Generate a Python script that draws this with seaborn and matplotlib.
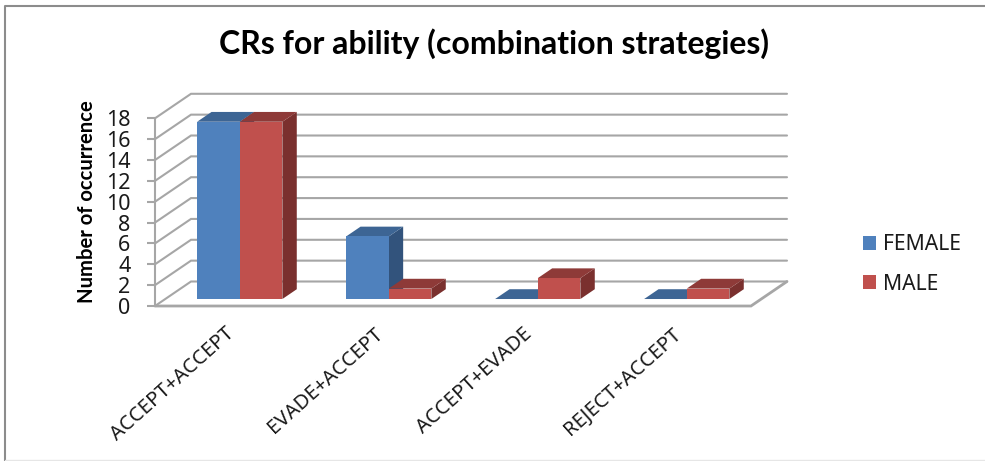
import matplotlib
matplotlib.use("Agg")
import matplotlib.pyplot as plt
from matplotlib.colors import to_hex
from matplotlib.lines import Line2D
from matplotlib.patches import Patch, Polygon
from matplotlib.transforms import ScaledTranslation
import pandas as pd
import seaborn as sns

categories = ["ACCEPT+ACCEPT", "EVADE+ACCEPT", "ACCEPT+EVADE", "REJECT+ACCEPT"]
female_counts = [17, 6, 0, 0]
male_counts = [17, 1, 2, 1]
series_names = ["FEMALE", "MALE"]
y_ticks = list(range(0, 20, 2))

FACE = {"FEMALE": "#4F81BD", "MALE": "#C0504D"}
TOP = {"FEMALE": "#3D6594", "MALE": "#8E3A38"}
SIDE = {"FEMALE": "#32537C", "MALE": "#7A302E"}
GRID = "#A6A6A6"
FONT = ["Noto Sans", "DejaVu Sans"]
BOLD_FONT = ["Lato", "DejaVu Sans"]

W, H = 985, 461
# Front plane of the box in pixels
LEFT, RIGHT, BASE, TOP18 = 155, 751, 306, 118.3
# Depth of the box, in pixels, then in data units
DEPTH_PX, RISE_PX = 36, 24.5
DX = DEPTH_PX / ((RIGHT - LEFT) / 4)
DY = RISE_PX / ((BASE - TOP18) / 18)
# Bars start part-way into the box and occupy a slice of its depth
BAR_FRONT, BAR_DEPTH = 0.285, 0.40

sns.set_theme(style="white")
plt.rcParams["font.family"] = FONT

frame = pd.DataFrame({
    "category": categories * 2,
    "series": [series_names[0]] * 4 + [series_names[1]] * 4,
    "count": female_counts + male_counts,
})

fig = plt.figure(figsize=(W / 100, H / 100), dpi=100, facecolor="white")
ax = fig.add_axes([LEFT / W, 1 - BASE / H, (RIGHT - LEFT) / W, (BASE - TOP18) / H])
ax.set_facecolor("none")

sns.barplot(data=frame, x="category", y="count", hue="series", order=categories,
            hue_order=series_names, palette=FACE, width=0.572, saturation=1,
            gap=0, legend=False, ax=ax, linewidth=0, zorder=5, clip_on=False)
ax.set_xlim(-0.5, 3.5)
ax.set_ylim(0, 18)

# Back wall, side wall and floor outline
for v in y_ticks:
    ax.plot([-0.5, -0.5 + DX, 3.5 + DX], [v, v + DY, v + DY], color=GRID, lw=1.5,
            clip_on=False, zorder=1, solid_joinstyle="miter")
ax.plot([-0.5, 3.5, 3.5 + DX], [0, 0, DY], color=GRID, lw=2, clip_on=False, zorder=1,
        solid_joinstyle="miter")

# Push each bar back into the box and extrude its top and right faces
for p in list(ax.patches):
    name = "FEMALE" if to_hex(p.get_facecolor()).lower() == FACE["FEMALE"].lower() else "MALE"
    x0 = p.get_x() + BAR_FRONT * DX
    y0 = p.get_y() + BAR_FRONT * DY
    w, h = p.get_width(), p.get_height()
    p.set_x(x0)
    p.set_y(y0)
    p.set_clip_on(False)
    ddx, ddy = BAR_DEPTH * DX, BAR_DEPTH * DY
    ax.add_patch(Polygon([(x0 + w, y0), (x0 + w + ddx, y0 + ddy),
                          (x0 + w + ddx, y0 + h + ddy), (x0 + w, y0 + h)],
                         closed=True, fc=SIDE[name], lw=0, zorder=3, clip_on=False))
    ax.add_patch(Polygon([(x0, y0 + h), (x0 + ddx, y0 + h + ddy),
                          (x0 + w + ddx, y0 + h + ddy), (x0 + w, y0 + h)],
                         closed=True, fc=TOP[name], lw=0, zorder=4, clip_on=False))

for spine in ("top", "right", "bottom"):
    ax.spines[spine].set_visible(False)
ax.spines["left"].set_color(GRID)
ax.spines["left"].set_linewidth(1.5)

ax.set_yticks(y_ticks)
ax.tick_params(axis="y", length=5.8, width=1.5, color=GRID, pad=12, labelsize=15.5,
               labelcolor="#1a1a1a", left=True)
ax.tick_params(axis="x", length=0, pad=13)
ax.set_xlabel("")
ax.set_ylabel("")
ax.set_xticks(range(4))
ax.set_xticklabels(categories, rotation=42, ha="right", rotation_mode="anchor",
                   fontsize=14.6, color="#1a1a1a")
# Category labels finish a little to the left of their group centre
label_shift = ScaledTranslation(-5 / 100, 0, fig.dpi_scale_trans)
for label in ax.get_xticklabels():
    label.set_transform(label.get_transform() + label_shift)

fig.text(87 / W, 1 - 202 / H, "Number of occurrence", rotation=90, ha="center", va="center",
         fontsize=14.6, fontweight="bold", color="black", family=BOLD_FONT)
fig.text(494 / W, 1 - 44 / H, "CRs for ability (combination strategies)", ha="center",
         va="center", fontsize=23, fontweight="bold", color="black", family=BOLD_FONT)

handles = [Patch(facecolor=FACE[n], edgecolor="none", label=n) for n in series_names]
fig.legend(handles=handles, loc="center left", bbox_to_anchor=(863 / W, 1 - 264.5 / H),
           frameon=False, fontsize=15.2, handlelength=0.62, handleheight=0.62,
           handletextpad=0.33, labelspacing=0.86, labelcolor="#1a1a1a", borderpad=0,
           borderaxespad=0)

# Outer chart border
fig.add_artist(Line2D([5 / W, 5 / W, 1], [0, 1 - 6 / H, 1 - 6 / H], color="#8C8C8C", lw=1.5,
                      transform=fig.transFigure))
fig.add_artist(Line2D([5 / W, 1], [1 / H, 1 / H], color="#E6E6E6", lw=1,
                      transform=fig.transFigure))

fig.savefig("out.png", dpi=100, facecolor="white")
